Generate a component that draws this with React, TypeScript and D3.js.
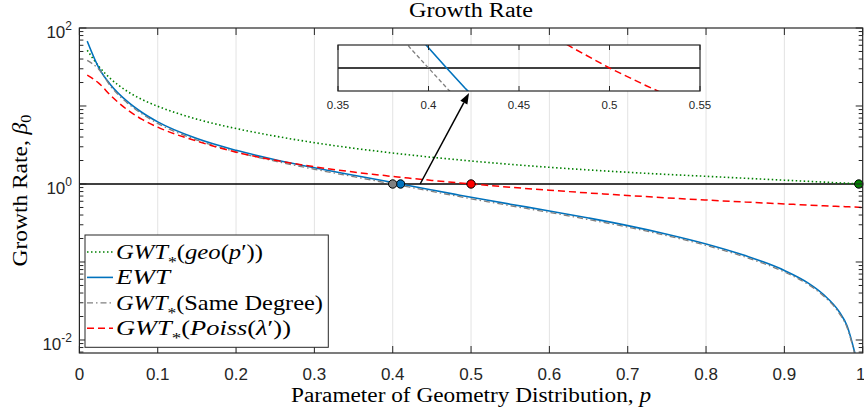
import React from "react";
import * as d3 from "d3";

// p values shared by every series
const pGrid = [
  0.01, 0.025, 0.04, 0.06, 0.08, 0.1, 0.15, 0.2, 0.25, 0.3, 0.35, 0.39, 0.4,
  0.41, 0.42, 0.45, 0.48, 0.5, 0.52, 0.55, 0.6, 0.65, 0.7, 0.75, 0.8, 0.85,
  0.9, 0.93, 0.95, 0.97, 0.98, 0.99, 1.0,
];

// GWT*(geo(p'))
const geoGWT = [
  51.9, 32, 22.3, 15.7, 12.1, 9.91, 6.78, 5.14, 4.11, 3.385, 2.874, 2.564,
  2.492, 2.43, 2.371, 2.2, 2.06, 1.97, 1.894, 1.786, 1.637, 1.514, 1.413,
  1.327, 1.255, 1.184, 1.119, 1.082, 1.058, 1.034, 1.023, 1.011, 1.0,
];

// EWT
const ewt = [
  67.8, 30.6, 18.6, 11.7, 8.26, 6.26, 3.82, 2.7, 2.05, 1.614, 1.297, 1.09,
  1.044, 1.0, 0.957, 0.839, 0.736, 0.675, 0.622, 0.551, 0.451, 0.366, 0.2927,
  0.2272, 0.1704, 0.1207, 0.0779, 0.054, 0.0382, 0.023, 0.0152, 0.0068, null,
];

// GWT*(Same Degree)
const sameDegree = [
  38.5, 29.3, 17.8, 11.2, 7.9, 5.99, 3.66, 2.58, 1.96, 1.545, 1.241, 1.043,
  1.0, 0.957, 0.916, 0.803, 0.704, 0.646, 0.595, 0.527, 0.432, 0.35, 0.28,
  0.2174, 0.1631, 0.1155, 0.0745, 0.0517, 0.0366, 0.022, 0.0145, 0.0065, null,
];

// GWT*(Poiss(lambda'))
const poissGWT = [
  24.8, 19.5, 13.6, 9.13, 6.74, 5.35, 3.54, 2.56, 2.01, 1.663, 1.424, 1.281,
  1.247, 1.219, 1.191, 1.112, 1.043, 1.0, 0.962, 0.908, 0.832, 0.767, 0.712,
  0.664, 0.623, 0.587, 0.555, 0.537, 0.526, 0.516, 0.511, 0.506, 0.5,
];

// where each curve reaches growth rate 1
const crossP = [0.995, 0.41, 0.4, 0.5];

const xTicks = [0, 0.1, 0.2, 0.3, 0.4, 0.5, 0.6, 0.7, 0.8, 0.9, 1];
const yDecades = [-2, -1, 0, 1, 2];
const yLabelExps = [-2, 0, 2];
const insetTicks = [0.35, 0.4, 0.45, 0.5, 0.55];

const serif = "'Liberation Serif', 'Times New Roman', serif";
const sans = "'Liberation Sans', Arial, Helvetica, sans-serif";
const axisColor = "#262626";

const series = [
  { key: "geo", values: geoGWT, color: "#008000", dash: "1.5,2.5", width: 1.6 },
  { key: "ewt", values: ewt, color: "#0072BD", dash: undefined, width: 1.6 },
  { key: "same", values: sameDegree, color: "#808080", dash: "6,3,1.5,3", width: 1.3 },
  { key: "poiss", values: poissGWT, color: "#FF0000", dash: "7,4", width: 1.5 },
];

export default function App() {
  const left = 79.4,
    right = 862.7,
    top = 28,
    bottom = 353;

  const x = d3.scaleLinear().domain([0, 1]).range([left, right]);
  const y = d3.scaleLog().domain([0.00681, 100]).range([bottom, top]);

  // inset
  const inL = 338,
    inR = 700,
    inT = 45,
    inB = 91;
  const ix = d3.scaleLinear().domain([0.35, 0.55]).range([inL, inR]);
  const iy = d3.scaleLinear().domain([0.95, 1.05]).range([inB, inT]);

  const mainLine = (vals) =>
    d3
      .line()
      .defined((d) => d[1] != null)
      .x((d) => x(d[0]))
      .y((d) => y(d[1]))
      .curve(d3.curveMonotoneX)(pGrid.map((p, i) => [p, vals[i]]));

  const insetLine = (vals) =>
    d3
      .line()
      .defined((d) => d[1] != null)
      .x((d) => ix(d[0]))
      .y((d) => iy(d[1]))(
      pGrid.map((p, i) => [p, vals[i]]).filter((d) => d[0] >= 0.3 && d[0] <= 0.6)
    );

  const minorTicks = [];
  yDecades.forEach((e) => {
    for (let k = 2; k <= 9; k++) {
      const v = k * Math.pow(10, e);
      if (v >= y.domain()[0] && v <= 100) minorTicks.push(v);
    }
  });
  [7, 8, 9].forEach((k) => {
    if (k * 1e-3 >= y.domain()[0]) minorTicks.push(k * 1e-3);
  });

  // arrow from the crossing region to the inset
  const ax0 = x(0.435),
    ay0 = y(1);
  const ax1 = ix(0.4224),
    ay1 = inB + 2;
  const ang = Math.atan2(ay1 - ay0, ax1 - ax0);
  const hl = 11,
    hw = 4;
  const bx = ax1 - hl * Math.cos(ang),
    by = ay1 - hl * Math.sin(ang);
  const head = [
    [ax1, ay1],
    [bx + hw * Math.sin(ang), by - hw * Math.cos(ang)],
    [bx - hw * Math.sin(ang), by + hw * Math.cos(ang)],
  ];

  // subscript asterisk
  const star = (
    <tspan fontSize="15" dy="8">
      *
    </tspan>
  );

  const legendRows = [
    {
      s: series[0],
      w: 147,
      label: (
        <>
          <tspan fontStyle="italic">GWT</tspan>
          {star}
          <tspan dy="-8">(</tspan>
          <tspan fontStyle="italic">geo</tspan>(<tspan fontStyle="italic">p</tspan>′))
        </>
      ),
    },
    {
      s: series[1],
      w: 54,
      label: <tspan fontStyle="italic">EWT</tspan>,
    },
    {
      s: series[2],
      w: 207,
      label: (
        <>
          <tspan fontStyle="italic">GWT</tspan>
          {star}
          <tspan dy="-8">(Same Degree)</tspan>
        </>
      ),
    },
    {
      s: series[3],
      w: 175,
      label: (
        <>
          <tspan fontStyle="italic">GWT</tspan>
          {star}
          <tspan dy="-8">(</tspan>
          <tspan fontStyle="italic">Poiss</tspan>(<tspan fontStyle="italic">λ</tspan>′))
        </>
      ),
    },
  ];

  return (
    <svg width={864} height={412} style={{ display: "block", position: "absolute", left: 0, top: 0 }}>
      <defs>
        <clipPath id="plotClip">
          <rect x={left} y={top} width={right - left} height={bottom - top} />
        </clipPath>
        <clipPath id="insetClip">
          <rect x={inL} y={inT} width={inR - inL} height={inB - inT} />
        </clipPath>
      </defs>
      <rect x={0} y={0} width={864} height={412} fill="#fff" />

      {/* title */}
      <text x={(left + right) / 2} y={17} textAnchor="middle" fontFamily={serif} fontSize={20} textLength={124} lengthAdjust="spacingAndGlyphs">
        Growth Rate
      </text>

      {/* grid */}
      {xTicks.slice(1, -1).map((t) => (
        <line key={"g" + t} x1={x(t)} x2={x(t)} y1={top} y2={bottom} stroke="#e3e3e3" strokeWidth={1} />
      ))}

      {/* reference line at 1 */}
      <line x1={left} x2={right} y1={y(1)} y2={y(1)} stroke="#000" strokeWidth={1.5} />

      {/* curves */}
      <g clipPath="url(#plotClip)">
        {series.map((s) => (
          <path key={s.key} d={mainLine(s.values)} fill="none" stroke={s.color} strokeWidth={s.width} strokeDasharray={s.dash} />
        ))}
      </g>

      {/* crossing markers */}
      {series.map((s, i) => (
        <circle key={"m" + s.key} cx={x(crossP[i])} cy={y(1)} r={4.2} fill={s.color} stroke="#000" strokeWidth={1} />
      ))}

      {/* axes box and ticks */}
      <rect x={left} y={top} width={right - left} height={bottom - top} fill="none" stroke={axisColor} strokeWidth={1.2} />
      {xTicks.map((t) => (
        <g key={"xt" + t}>
          <line x1={x(t)} x2={x(t)} y1={bottom} y2={bottom - 7} stroke={axisColor} />
          <line x1={x(t)} x2={x(t)} y1={top} y2={top + 7} stroke={axisColor} />
          <text x={t === 1 ? x(t) - 2 : x(t)} y={380} textAnchor="middle" fontFamily={sans} fontSize={17} fill={axisColor}>
            {d3.format("~g")(t)}
          </text>
        </g>
      ))}
      {yDecades.map((e) => (
        <g key={"yt" + e}>
          <line x1={left} x2={left + 7} y1={y(Math.pow(10, e))} y2={y(Math.pow(10, e))} stroke={axisColor} />
          <line x1={right} x2={right - 7} y1={y(Math.pow(10, e))} y2={y(Math.pow(10, e))} stroke={axisColor} />
        </g>
      ))}
      {minorTicks.map((v, i) => (
        <g key={"ym" + i}>
          <line x1={left} x2={left + 4} y1={y(v)} y2={y(v)} stroke={axisColor} />
          <line x1={right} x2={right - 4} y1={y(v)} y2={y(v)} stroke={axisColor} />
        </g>
      ))}
      {yLabelExps.map((e) => (
        <text key={"yl" + e} x={72} y={y(Math.pow(10, e)) + 10} textAnchor="end" fontFamily={sans} fontSize={17} fill={axisColor}>
          10
          <tspan dy={-8} fontSize={12}>
            {e}
          </tspan>
        </text>
      ))}

      {/* axis labels */}
      <text x={(left + right) / 2} y={402} textAnchor="middle" fontFamily={serif} fontSize={20} textLength={360} lengthAdjust="spacingAndGlyphs">
        Parameter of Geometry Distribution, <tspan fontStyle="italic">p</tspan>
      </text>
      <text transform={`translate(27,${(top + bottom) / 2}) rotate(-90)`} textAnchor="middle" fontFamily={serif} fontSize={20} textLength={152} lengthAdjust="spacingAndGlyphs">
        Growth Rate, <tspan fontStyle="italic">β</tspan>
        <tspan fontSize={14} dy={4}>0</tspan>
      </text>

      {/* legend */}
      <rect x={85} y={235} width={243.3} height={112.3} fill="#fff" stroke={axisColor} strokeWidth={1} />
      {legendRows.map((r, i) => {
        const cy = 252 + i * 25.4;
        return (
          <g key={"lg" + i}>
            <line x1={87} x2={113} y1={cy} y2={cy} stroke={r.s.color} strokeWidth={r.s.width} strokeDasharray={r.s.dash} />
            <text x={116} y={cy + 7} fontFamily={serif} fontSize={21} textLength={r.w} lengthAdjust="spacingAndGlyphs" fill="#000">
              {r.label}
            </text>
          </g>
        );
      })}

      {/* arrow */}
      <line x1={ax0} y1={ay0} x2={bx} y2={by} stroke="#000" strokeWidth={1.5} />
      <polygon points={head.map((d) => d.join(",")).join(" ")} fill="#000" />

      {/* inset */}
      <rect x={inL} y={inT} width={inR - inL} height={inB - inT} fill="#fff" />
      {insetTicks.slice(1, -1).map((t) => (
        <line key={"ig" + t} x1={ix(t)} x2={ix(t)} y1={inT} y2={inB} stroke="#e3e3e3" />
      ))}
      <line x1={inL} x2={inR} y1={iy(1)} y2={iy(1)} stroke="#000" strokeWidth={1.5} />
      <g clipPath="url(#insetClip)">
        {series.map((s) => (
          <path key={"in" + s.key} d={insetLine(s.values)} fill="none" stroke={s.color} strokeWidth={s.width} strokeDasharray={s.dash === "6,3,1.5,3" ? "4,2.5" : s.dash} />
        ))}
      </g>
      <rect x={inL} y={inT} width={inR - inL} height={inB - inT} fill="none" stroke={axisColor} strokeWidth={1.2} />
      {insetTicks.map((t) => (
        <g key={"it" + t}>
          <line x1={ix(t)} x2={ix(t)} y1={inB} y2={inB - 5} stroke={axisColor} />
          <line x1={ix(t)} x2={ix(t)} y1={inT} y2={inT + 5} stroke={axisColor} />
          <text x={ix(t)} y={109} textAnchor="middle" fontFamily={sans} fontSize={11.5} fill={axisColor}>
            {d3.format("~g")(t)}
          </text>
        </g>
      ))}
    </svg>
  );
}
